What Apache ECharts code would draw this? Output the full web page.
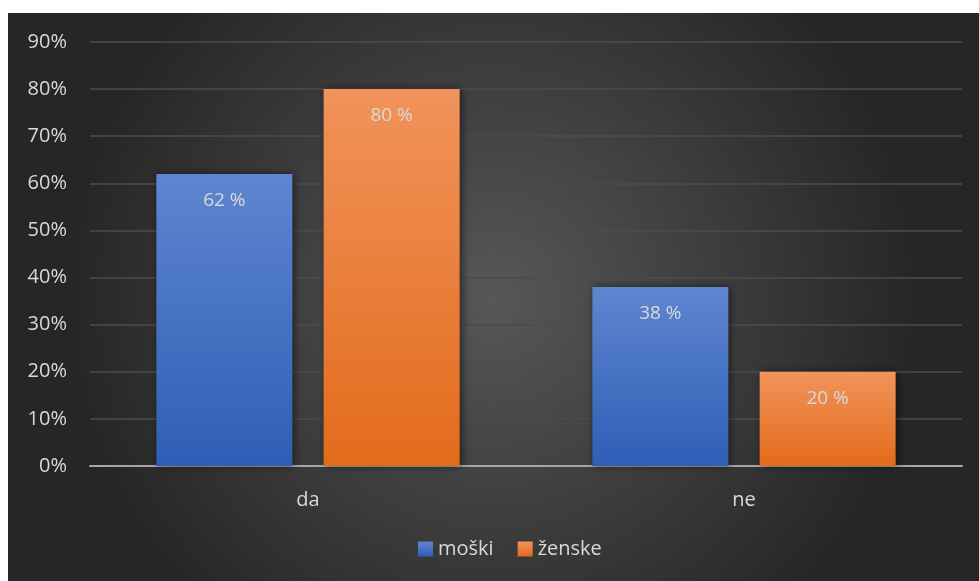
<!DOCTYPE html>
<html><head><meta charset="utf-8">
<script src="https://cdn.jsdelivr.net/npm/echarts@6/dist/echarts.min.js"></script>
<style>html,body{margin:0;padding:0;background:#fff;width:979px;height:581px;overflow:hidden}
#c{position:absolute;left:8px;top:13px;width:971px;height:568px}</style>
</head><body><div id="c"></div>
<script>
var categories = ['da', 'ne'];
var moski = [62, 38];
var zenske = [80, 20];
var seriesNames = ['moški', 'ženske'];

var chart = echarts.init(document.getElementById('c'));
var font = '"Open Sans", "Noto Sans", sans-serif';
function grad(top, bottom){
  return new echarts.graphic.LinearGradient(0,0,0,1,[{offset:0,color:top},{offset:1,color:bottom}]);
}
var labelCfg = {show:true, position:'insideTop', distance:17, color:'#d9d9d9', fontSize:19, fontFamily:font, formatter:'{c} %'};
chart.setOption({
  backgroundColor: new echarts.graphic.RadialGradient(0.5,0.5,0.75,[{offset:0,color:'#575757'},{offset:1,color:'#262626'}]),
  textStyle:{fontFamily:font},
  grid:{left:82, right:17, top:29, bottom:115, containLabel:false},
  legend:{bottom:17, left:405, itemWidth:15, itemHeight:15, itemGap:24, icon:'rect',
    textStyle:{color:'#d9d9d9', fontSize:20, fontFamily:font}, data:seriesNames},
  xAxis:{type:'category', data:categories,
    axisLine:{lineStyle:{color:'#a6a6a6', width:2}}, axisTick:{show:false},
    axisLabel:{color:'#d9d9d9', fontSize:20, margin:24, fontFamily:font}},
  yAxis:{type:'value', min:0, max:90, interval:10,
    axisLabel:{color:'#d9d9d9', fontSize:20, margin:23, formatter:'{value}%', fontFamily:font},
    axisLine:{show:false}, axisTick:{show:false},
    splitLine:{lineStyle:{color:'#4d4d4d', width:1.5}}},
  series:[
    {name:seriesNames[0], type:'bar', data:moski, barWidth:136, barGap:'23%',
      itemStyle:{color:grad('#5e86d0','#2f5eb6'), shadowBlur:8, shadowColor:'rgba(0,0,0,0.55)', shadowOffsetX:2, shadowOffsetY:0},
      label:labelCfg},
    {name:seriesNames[1], type:'bar', data:zenske, barWidth:136,
      itemStyle:{color:grad('#f1935b','#e36b1b'), shadowBlur:8, shadowColor:'rgba(0,0,0,0.55)', shadowOffsetX:2, shadowOffsetY:0},
      label:labelCfg}
  ]
});
</script></body></html>
